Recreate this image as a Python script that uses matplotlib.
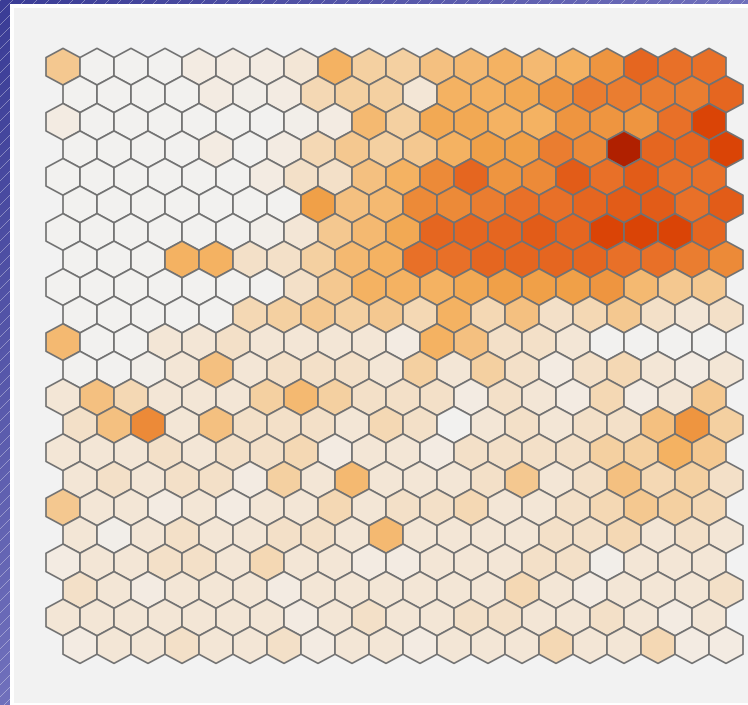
import numpy as np
import matplotlib
matplotlib.use("Agg")
import matplotlib.pyplot as plt
from matplotlib.collections import PolyCollection
from matplotlib.colors import LinearSegmentedColormap, Normalize
from matplotlib.patches import Rectangle

# SOM node intensities, one list per hex row (odd rows are shifted right by half a cell)
node_values = [
    [3.5, 0, 0, 0, 1, 1, 1, 1.5, 5, 3, 3, 4, 4.5, 5, 4.5, 5, 6.5, 8.5, 8, 8],
    [0, 0, 0, 0, 1, 0.5, 1, 2.5, 3, 3, 1.5, 5, 5, 5.5, 6.5, 7.5, 7.5, 7.5, 7.5, 8.5],
    [1, 0, 0, 0, 0, 0, 0, 0.5, 1, 4.5, 3, 5.5, 5.5, 5, 5, 6.5, 6.5, 6.5, 8, 10],
    [0, 0, 0, 0, 1, 0, 1, 2.5, 3.5, 3, 3.5, 5, 6, 6, 7.5, 7, 11, 8.5, 8.5, 10],
    [0, 0, 0, 0, 0, 0, 1, 2, 2, 4, 5, 7, 8.5, 6.5, 7, 9, 8, 9, 8, 8],
    [0, 0, 0, 0, 0, 0, 0, 6, 4, 4.5, 7, 7, 7.5, 8, 8, 8.5, 9, 9, 8, 9],
    [0, 0, 0, 0, 0, 0, 0.5, 1.5, 3.5, 4.5, 5.5, 8.5, 8.5, 8.5, 9, 8.5, 10, 10, 10, 8.5],
    [0, 0, 0, 5, 5, 2, 2, 3, 4.5, 5, 8, 8, 8.5, 8.5, 8.5, 8.5, 8, 8, 7.5, 7],
    [0, 0, 0, 0, 0, 0, 0, 2, 3.5, 5, 5, 5, 5.5, 6, 6, 6, 6.5, 4.5, 3.5, 3.5],
    [0, 0, 0, 0, 0, 2.5, 3, 3.5, 3, 3.5, 2.5, 5, 2.5, 4, 2, 2.5, 3.5, 2, 1.5, 2],
    [4.5, 0, 0, 1.5, 1.5, 2, 1.5, 1.5, 1.5, 1.5, 1, 5, 4, 2, 2, 1.5, 0, 0, 0, 0],
    [0, 0, 0.5, 1.5, 4, 1.5, 2, 2, 2, 1.5, 3, 1.5, 3, 2, 1, 2, 2.5, 1.5, 1, 1.5],
    [1.5, 4, 2.5, 1.5, 1.5, 1.5, 3, 4.5, 3, 2, 2, 2, 1, 2, 1.5, 1, 2.5, 1, 1.5, 3.5],
    [2, 4, 7, 1.5, 4, 2, 2, 2, 1.5, 2.5, 2, 0, 1.5, 2, 1.5, 2, 2, 4, 6.5, 3],
    [1.5, 1.5, 1.5, 2, 1.5, 2, 2, 2.5, 1, 1.5, 1.5, 1, 2, 2, 2, 2, 3, 3, 5, 3.5],
    [1.5, 2, 1.5, 2, 2, 1, 3, 1.5, 4.5, 1.5, 1.5, 1.5, 2, 3.5, 1.5, 2, 4, 2.5, 3, 2],
    [3.5, 1.5, 1.5, 1, 1.5, 1, 1.5, 1.5, 2.5, 1.5, 2, 2, 2.5, 1.5, 1.5, 2, 2.5, 3.5, 3, 2.5],
    [1.5, 0.5, 1.5, 2, 1.5, 1.5, 2, 2, 1.5, 4.5, 1.5, 1.5, 1.5, 1.5, 2, 2, 2.5, 1.5, 2, 1.5],
    [1, 1.5, 1.5, 2, 2, 1.5, 2.5, 1.5, 1.5, 1, 1, 1.5, 1.5, 1.5, 2, 2, 0.5, 1.5, 1.5, 1.5],
    [2, 1.5, 1, 1.5, 1.5, 1.5, 1, 1.5, 1.5, 1.5, 1.5, 1.5, 1.5, 2.5, 1.5, 1, 1.5, 1.5, 1.5, 2],
    [1.5, 1.5, 1.5, 1.5, 1.5, 1.5, 1.5, 1, 1.5, 2, 1.5, 1.5, 2, 2, 1.5, 1.5, 2, 1.5, 1, 1.5],
    [1, 1.5, 1.5, 2, 1.5, 1.5, 2, 1, 1.5, 1.5, 1, 1.5, 1.5, 1.5, 2.5, 1.5, 1.5, 2.5, 1, 1],
]

# colour ramp: near-white -> beige -> orange -> deep red
ramp_colors = ["#f2f1ef", "#f3ebe2", "#f3e0c8", "#f4d0a0", "#f4c080", "#f4b262",
               "#f0a048", "#ec8a38", "#e87028", "#e25c18", "#da4406", "#b02000"]
vmax = len(ramp_colors) - 1
cmap = LinearSegmentedColormap.from_list(
    "som", [(i / vmax, c) for i, c in enumerate(ramp_colors)])

W, H = 748, 705
fig = plt.figure(figsize=(W / 100, H / 100), dpi=100)

# striped blue page background
bg = fig.add_axes([0, 0, 1, 1])
yy, xx = np.mgrid[0:H, 0:W]
t = np.clip(xx / W + yy / H, 0, 1)[..., None]
dark = np.array([0x3a, 0x3c, 0x96]) / 255
light = np.array([0x70, 0x70, 0xbc]) / 255
img = dark * (1 - t) + light * t
stripe = ((xx + yy) % 12 < 1)[..., None]
img = np.where(stripe, img * 0.65 + 0.35, img)
bg.imshow(img, extent=(0, W, H, 0), aspect="auto", interpolation="nearest")
bg.add_patch(Rectangle((10, 4), W, H, facecolor="white", edgecolor="none"))
bg.add_patch(Rectangle((14, 8), W, 695, facecolor="#f2f2f2", edgecolor="none"))
bg.set_xlim(0, W)
bg.set_ylim(H, 0)
bg.axis("off")

# hex grid, x in column units, y in row units
ax = fig.add_axes([0, 0, 1, 1])
ax.patch.set_alpha(0)
tip = 2 / 3
hex_shape = np.array([(0, -tip), (0.5, -tip / 2), (0.5, tip / 2),
                      (0, tip), (-0.5, tip / 2), (-0.5, -tip / 2)])
polys = []
vals = []
for r, row in enumerate(node_values):
    for c, v in enumerate(row):
        cx = c + 0.5 * (r % 2)
        polys.append(hex_shape + (cx, r))
        vals.append(v)

pc = PolyCollection(polys, array=np.array(vals), cmap=cmap,
                    norm=Normalize(0, vmax), edgecolors="#727272", linewidths=1.2)
ax.add_collection(pc)
ax.set_xlim(-63 / 34, (W - 63) / 34)
ax.set_ylim((H - 66.7) / 27.54, -66.7 / 27.54)
ax.axis("off")

fig.savefig("out.png", dpi=100)
